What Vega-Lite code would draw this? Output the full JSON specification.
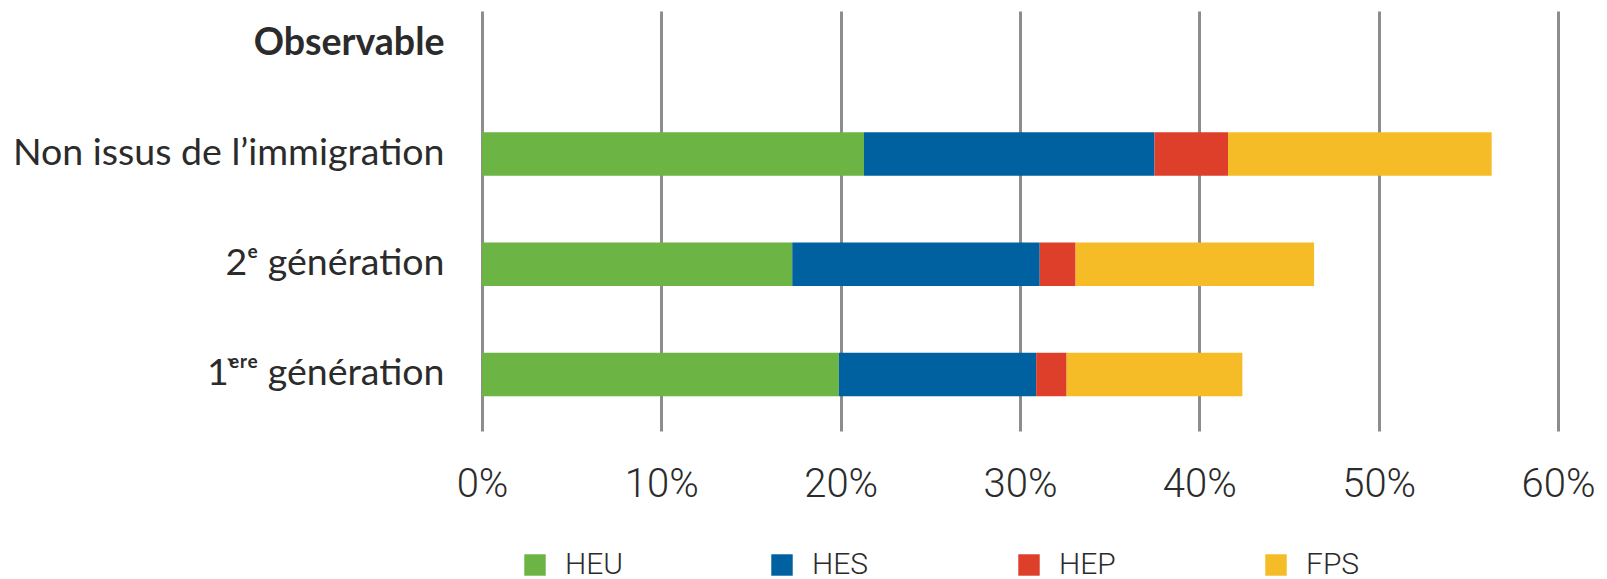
{
  "$schema": "https://vega.github.io/schema/vega-lite/v6.json",
  "width": 1076,
  "height": 420,
  "autosize": {"type": "none"},
  "padding": {"left": 482, "top": 11, "right": 49, "bottom": 148},
  "background": "white",
  "data": {
    "values": [
      {"groupe": "Non issus de l’immigration", "type": "HEU", "k": 1, "part": 0.213},
      {"groupe": "Non issus de l’immigration", "type": "HES", "k": 2, "part": 0.162},
      {"groupe": "Non issus de l’immigration", "type": "HEP", "k": 3, "part": 0.041},
      {"groupe": "Non issus de l’immigration", "type": "FPS", "k": 4, "part": 0.147},
      {"groupe": "2ᵉ génération", "type": "HEU", "k": 1, "part": 0.173},
      {"groupe": "2ᵉ génération", "type": "HES", "k": 2, "part": 0.138},
      {"groupe": "2ᵉ génération", "type": "HEP", "k": 3, "part": 0.020},
      {"groupe": "2ᵉ génération", "type": "FPS", "k": 4, "part": 0.133},
      {"groupe": "1ᵉ̀ʳᵉ génération", "type": "HEU", "k": 1, "part": 0.199},
      {"groupe": "1ᵉ̀ʳᵉ génération", "type": "HES", "k": 2, "part": 0.110},
      {"groupe": "1ᵉ̀ʳᵉ génération", "type": "HEP", "k": 3, "part": 0.017},
      {"groupe": "1ᵉ̀ʳᵉ génération", "type": "FPS", "k": 4, "part": 0.098}
    ]
  },
  "mark": {"type": "bar"},
  "encoding": {
    "y": {
      "field": "groupe",
      "type": "nominal",
      "title": null,
      "scale": {
        "domain": ["Observable", "Non issus de l’immigration", "2ᵉ génération", "1ᵉ̀ʳᵉ génération"],
        "paddingInner": 0.605,
        "paddingOuter": 0.208,
        "align": 0.242
      },
      "axis": {
        "domain": false,
        "ticks": false,
        "grid": false,
        "labelFont": "Lato",
        "labelFontSize": 37.5,
        "labelColor": "#2b2b2b",
        "labelPadding": 38,
        "labelLimit": 700,
        "labelFontWeight": {"condition": {"test": "datum.value === 'Observable'", "value": "bold"}, "value": "normal"}
      }
    },
    "x": {
      "field": "part",
      "type": "quantitative",
      "stack": "zero",
      "title": null,
      "scale": {"domain": [0, 0.6], "nice": false},
      "axis": {
        "values": [0, 0.1, 0.2, 0.3, 0.4, 0.5, 0.6],
        "format": ".0%",
        "grid": true,
        "gridColor": "#8d8d89",
        "gridWidth": 3,
        "domain": false,
        "ticks": false,
        "labelFont": "Roboto",
        "labelFontSize": 40,
        "labelFontWeight": 300,
        "labelColor": "#2b2b2b",
        "labelPadding": 33,
        "labelFlush": false
      }
    },
    "color": {
      "field": "type",
      "type": "nominal",
      "scale": {
        "domain": ["HEU", "HES", "HEP", "FPS"],
        "range": ["#6cb545", "#0061a0", "#de3f2b", "#f5bc27"]
      },
      "legend": {
        "title": null,
        "orient": "none",
        "legendX": 38,
        "legendY": 539,
        "direction": "horizontal",
        "columns": 4,
        "gridAlign": "all",
        "columnPadding": 143,
        "symbolType": "square",
        "symbolSize": 460,
        "symbolStrokeWidth": 0,
        "labelFont": "Roboto",
        "labelFontSize": 30,
        "labelFontWeight": 300,
        "labelColor": "#2b2b2b",
        "labelOffset": 15
      }
    },
    "order": {"field": "k", "type": "quantitative"}
  },
  "config": {"view": {"stroke": null}}
}
